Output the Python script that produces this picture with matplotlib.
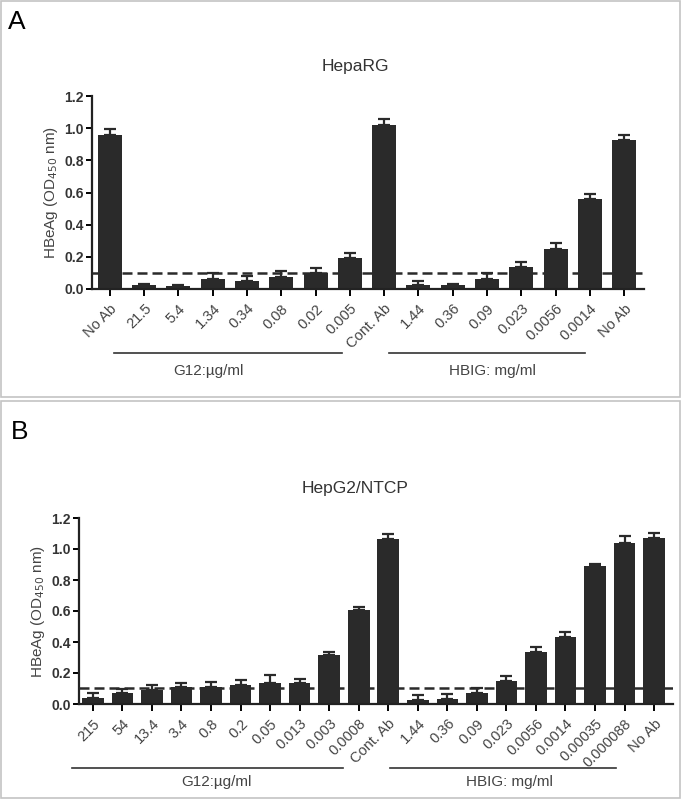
import numpy as np
import matplotlib
matplotlib.use("Agg")
import matplotlib.pyplot as plt
from matplotlib.lines import Line2D
from matplotlib.patches import Rectangle

plt.rcParams["font.family"] = ["Liberation Sans", "DejaVu Sans"]

# ── Data ───────────────────────────────────────────────────────────────
a_labels = ["No Ab", "21.5", "5.4", "1.34", "0.34", "0.08", "0.02", "0.005",
            "Cont. Ab", "1.44", "0.36", "0.09", "0.023", "0.0056", "0.0014", "No Ab"]
a_mean = [0.96, 0.025, 0.02, 0.064, 0.05, 0.077, 0.10, 0.19,
          1.02, 0.025, 0.025, 0.062, 0.135, 0.25, 0.557, 0.925]
a_err = [0.032, 0.005, 0.006, 0.035, 0.03, 0.032, 0.033, 0.034,
         0.034, 0.023, 0.008, 0.038, 0.032, 0.035, 0.032, 0.033]
a_cutoff = 0.10

b_labels = ["215", "54", "13.4", "3.4", "0.8", "0.2", "0.05", "0.013", "0.003", "0.0008",
            "Cont. Ab", "1.44", "0.36", "0.09", "0.023", "0.0056", "0.0014",
            "0.00035", "0.000088", "No Ab"]
b_mean = [0.04, 0.07, 0.092, 0.107, 0.107, 0.123, 0.138, 0.138, 0.316, 0.609,
          1.065, 0.028, 0.032, 0.071, 0.146, 0.333, 0.43, 0.888, 1.039, 1.071]
b_err = [0.03, 0.03, 0.028, 0.03, 0.033, 0.032, 0.047, 0.022, 0.022, 0.019,
         0.032, 0.032, 0.035, 0.032, 0.032, 0.033, 0.032, 0.017, 0.043, 0.032]
b_cutoff = 0.105

W, H = 682, 801
fig = plt.figure(figsize=(W / 100, H / 100), dpi=100)


def fx(x):
    return x / W


def fy(y):
    return 1 - y / H


# ── Panel frames ───────────────────────────────────────────────────────
for y0, y1 in [(1, 397), (401, 798)]:
    fig.add_artist(Rectangle((fx(1), fy(y1)), fx(679), (y1 - y0) / H,
                             transform=fig.transFigure, fill=False,
                             edgecolor="#c4c4c4", linewidth=1.2))


# ── Helper: bar panel ──────────────────────────────────────────────────
def bar_panel(rect, labels, mean, err, cutoff, width, xlim, title, title_y):
    ax = fig.add_axes(rect)
    x = np.arange(len(labels))
    ax.bar(x, mean, width=width, color="#2a2a2a", zorder=2)
    ax.errorbar(x, mean, yerr=[np.zeros(len(err)), err], fmt="none",
                ecolor="#2a2a2a", elinewidth=1.6, capsize=4.5, capthick=1.6, zorder=2)
    ax.axhline(cutoff, color="#2a2a2a", linestyle=(0, (4, 2)), linewidth=1.8, zorder=3)
    ax.set_xlim(*xlim)
    ax.set_ylim(0, 1.2)
    ax.set_yticks(np.arange(0, 1.21, 0.2))
    ax.set_yticklabels([f"{v:.1f}" for v in np.arange(0, 1.21, 0.2)],
                       fontweight="bold", fontsize=10, color="#333333")
    ax.set_xticks(x)
    ax.set_xticklabels(labels, rotation=45, ha="right", rotation_mode="anchor",
                       fontsize=10.5, color="#444444")
    ax.tick_params(axis="both", direction="out", width=1.4, length=4, pad=2)
    ax.tick_params(axis="x", length=5, pad=4)
    for s in ["top", "right"]:
        ax.spines[s].set_visible(False)
    for s in ["left", "bottom"]:
        ax.spines[s].set_linewidth(1.6)
        ax.spines[s].set_color("#222222")
    ax.set_ylabel("HBeAg (OD$_{450}$ nm)", fontsize=11, color="#444444", labelpad=3)
    fig.text(fx(355), fy(title_y), title, ha="center", va="center",
             fontsize=12.5, color="#333333")
    return ax


bar_panel([fx(92), fy(289), fx(644 - 92), (289 - 96) / H],
          a_labels, a_mean, a_err, a_cutoff, 0.7, (-0.52, 15.58), "HepaRG", 67)
bar_panel([fx(79), fy(704), fx(673 - 79), (704 - 518) / H],
          b_labels, b_mean, b_err, b_cutoff, 0.73, (-0.47, 19.64), "HepG2/NTCP", 488)

# ── Group lines & labels ───────────────────────────────────────────────
groups = [
    (114, 342, 353, 208, 371, "G12:µg/ml"),
    (389, 585, 353, 492, 371, "HBIG: mg/ml"),
    (72, 343, 768, 216, 782, "G12:µg/ml"),
    (390, 616, 768, 509, 782, "HBIG: mg/ml"),
]
for x0, x1, ly, tx, ty, txt in groups:
    fig.add_artist(Line2D([fx(x0), fx(x1)], [fy(ly), fy(ly)],
                          transform=fig.transFigure, color="#333333", linewidth=1.2))
    fig.text(fx(tx), fy(ty), txt, ha="center", va="center", fontsize=11, color="#444444")

# ── Panel letters ──────────────────────────────────────────────────────
fig.text(fx(8), fy(22), "A", ha="left", va="center", fontsize=19)
fig.text(fx(11), fy(432), "B", ha="left", va="center", fontsize=19)

fig.savefig("out.png", dpi=100)
